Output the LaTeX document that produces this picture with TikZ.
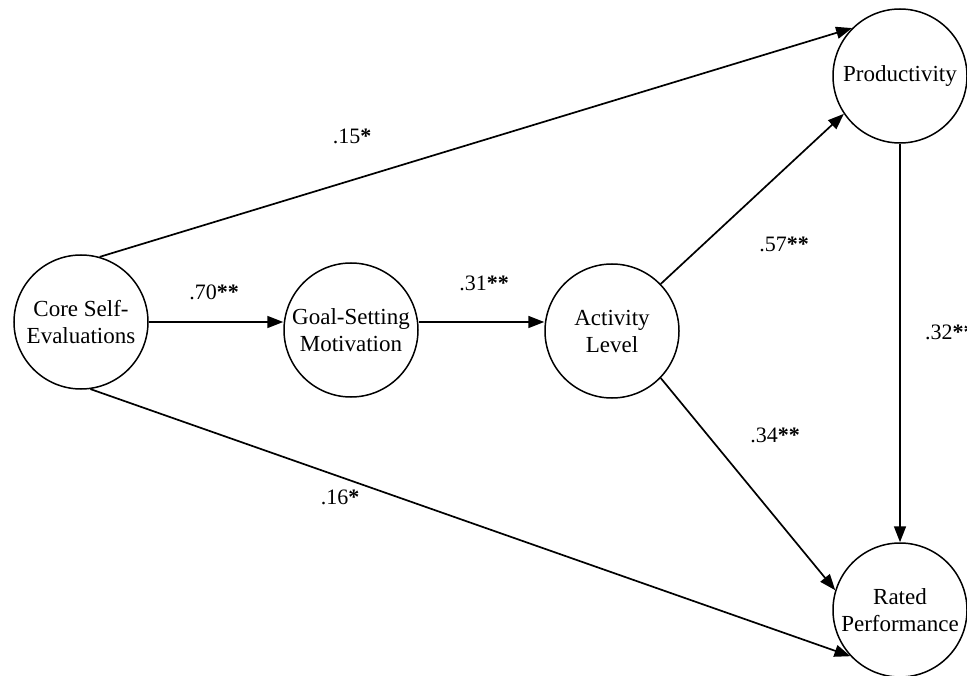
\documentclass[tikz,border=0pt]{standalone}
\usepackage{fontspec}
\setmainfont{Liberation Serif}
\usetikzlibrary{arrows.meta}
\begin{document}
\begin{tikzpicture}[x=1pt,y=-1pt,
  var/.style={circle,draw,line width=1.5pt,minimum size=134pt,inner sep=0pt,align=center,font=\fontsize{23}{27}\selectfont},
  path/.style={line width=1.7pt,-{Triangle[length=16pt,width=12pt]}},
  coef/.style={font=\fontsize{22}{26}\selectfont,inner sep=0pt}]
\useasboundingbox (0,0) rectangle (967,676);
\node[var] (cse) at (81,322) {Core Self-\\Evaluations};
\node[var] (gsm) at (351,330) {Goal-Setting\\Motivation};
\node[var] (act) at (612,331) {Activity\\Level};
\node[var] (prod) at (900,76) {Productivity};
\node[var] (rp) at (900,610) {Rated\\Performance};
\draw[path] (cse.east |- 0,322) -- (gsm.west |- 0,322);
\draw[path] (gsm.east |- 0,322) -- (act.west |- 0,322);
\draw[path] (cse.74) -- (prod.135);
\draw[path] (cse.278) -- (rp.223);
\draw[path] (act.44) -- (prod.214);
\draw[path] (act.-44) -- (rp.163);
\draw[path] (prod.south) -- (rp.north);
\node[coef] (c15) at (352,136) {.15\textbf{*}};
\node[coef] (c70) at (214,292) {.70\textbf{**}};
\node[coef] (c31) at (484,283) {.31\textbf{**}};
\node[coef] (c57) at (784,244) {.57\textbf{**}};
\node[coef,anchor=west] (c32) at (925,332) {.32\textbf{**}};
\node[coef] (c34) at (775,435) {.34\textbf{**}};
\node[coef] (c16) at (340,497) {.16\textbf{*}};
\end{tikzpicture}
\end{document}
